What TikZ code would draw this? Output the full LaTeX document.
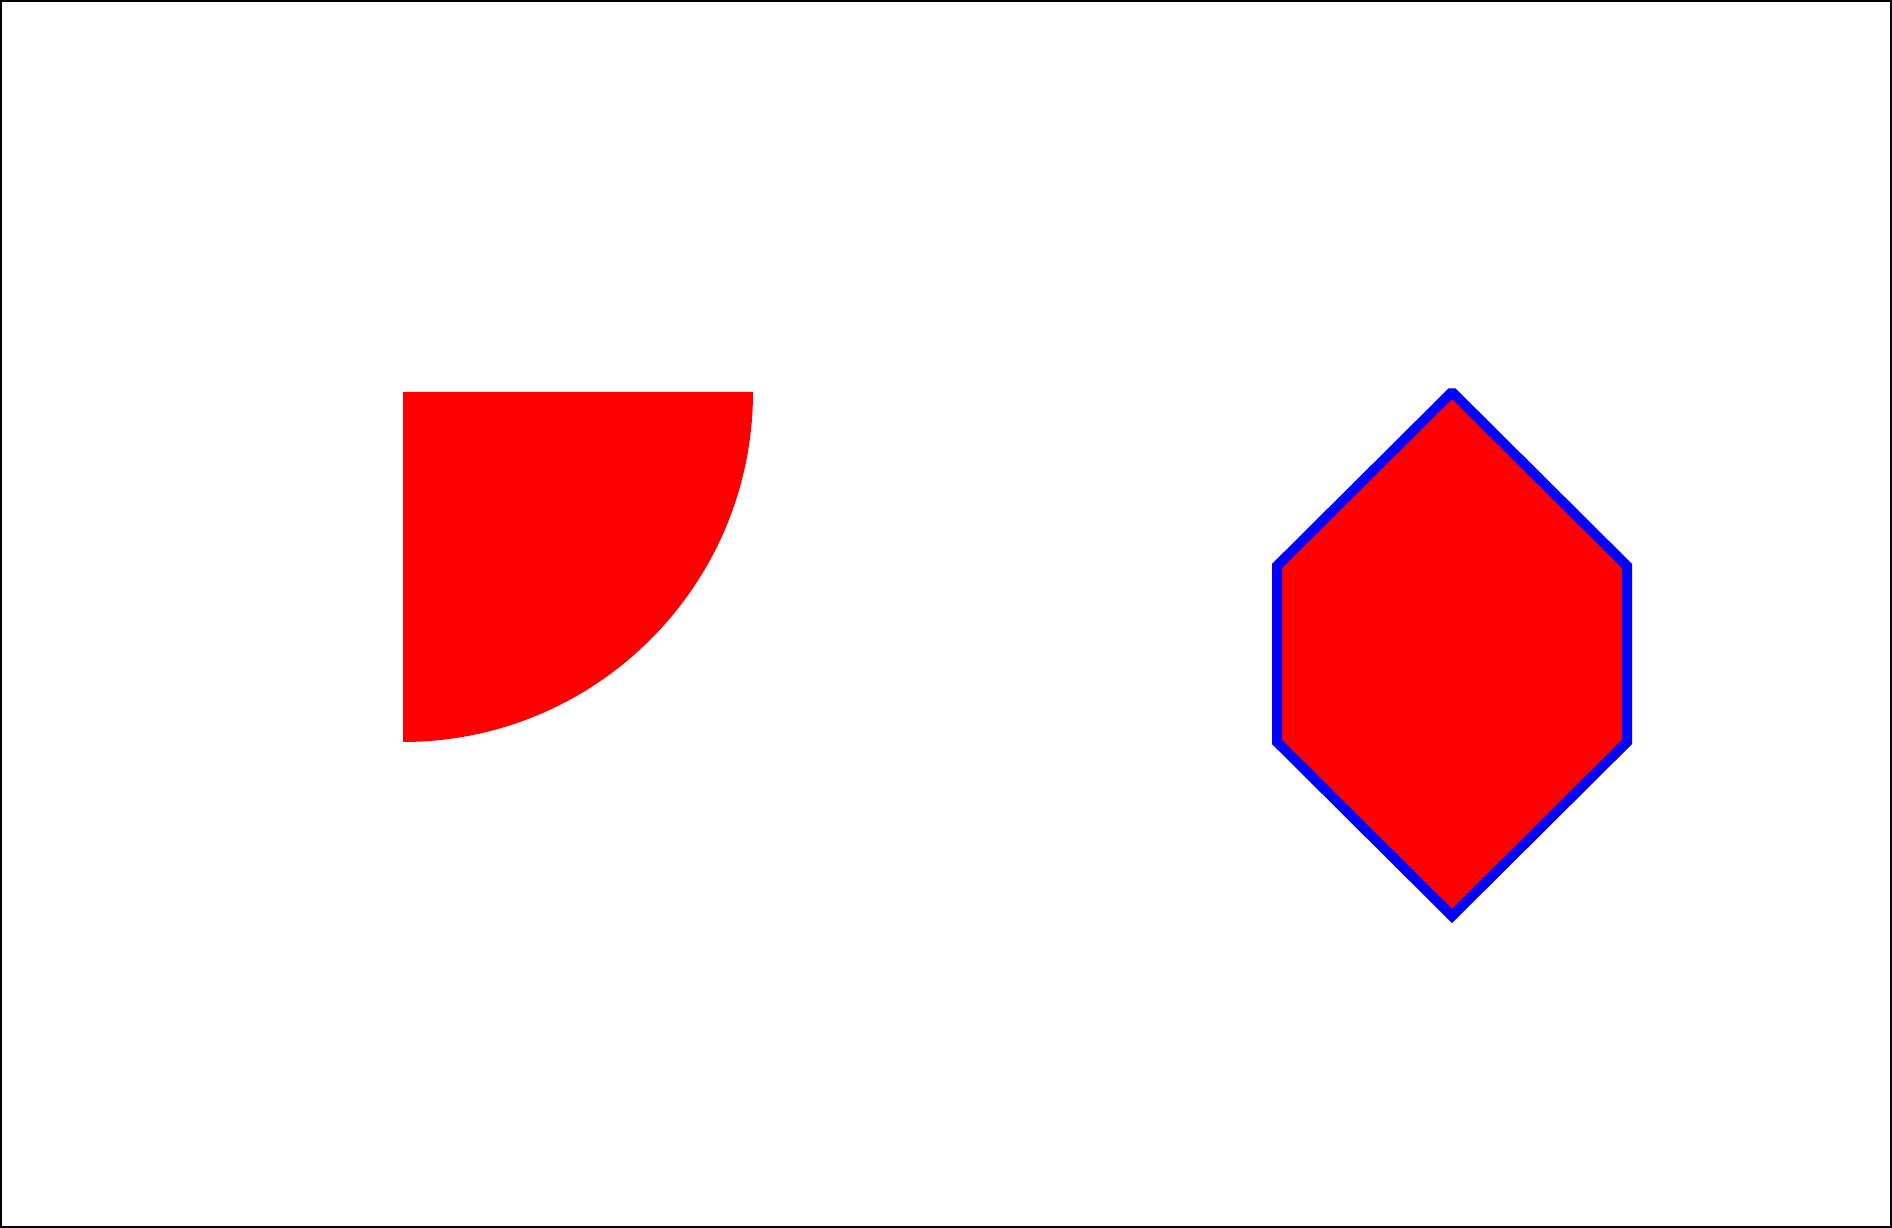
\documentclass[tikz,border=0pt]{standalone}
\begin{document}
\begin{tikzpicture}
\useasboundingbox (0,0) rectangle (18.92,12.28);
\draw[black, line width=0.02cm] (0.01,0.01) rectangle (18.91,12.27);
% quarter disc
\fill[red] (4.03,8.36) -- (7.53,8.36) arc[start angle=0, end angle=-90, radius=3.5] -- cycle;
% hexagon (starts/ends at top, bevelled top)
\coordinate (t) at (14.52,8.36);
\coordinate (ul) at (12.77,6.62);
\coordinate (ll) at (12.77,4.86);
\coordinate (b) at (14.52,3.12);
\coordinate (lr) at (16.27,4.86);
\coordinate (ur) at (16.27,6.62);
\filldraw[fill=red, draw=blue, line width=0.1cm] (t) -- (ul) -- (ll) -- (b) -- (lr) -- (ur) -- (t);
\fill[blue] ([shift={(-0.0354,0.0354)}]t) -- ([shift={(0.0354,0.0354)}]t) -- (t) -- cycle;
\end{tikzpicture}
\end{document}
